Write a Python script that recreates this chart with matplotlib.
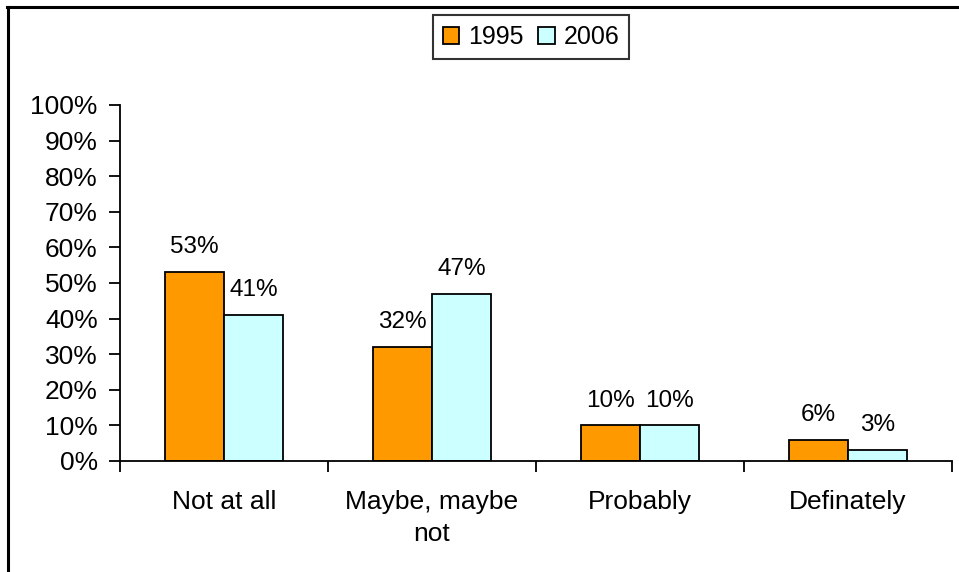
import numpy as np
import matplotlib.pyplot as plt
from matplotlib.lines import Line2D
from matplotlib.ticker import FixedLocator, NullFormatter

plt.rcParams['font.family'] = ['Liberation Sans', 'DejaVu Sans']

categories = ["Not at all", "Maybe, maybe\nnot", "Probably", "Definately"]
years = ["1995", "2006"]
vals_1995 = [53, 32, 10, 6]
vals_2006 = [41, 47, 10, 3]
colors = ["#FF9900", "#CCFFFF"]

fig = plt.figure(figsize=(9.59, 5.72), dpi=100)
ax = fig.add_axes([120/959, 1-461/572, (952-120)/959, (461-105)/572])

x = np.arange(len(categories))
w = 0.284
b1 = ax.bar(x - w/2, vals_1995, w, color=colors[0], edgecolor='black', linewidth=1.3, label=years[0])
b2 = ax.bar(x + w/2, vals_2006, w, color=colors[1], edgecolor='black', linewidth=1.3, label=years[1])

for bars, vals in ((b1, vals_1995), (b2, vals_2006)):
    for r, v in zip(bars, vals):
        ax.annotate(f"{v}%", (r.get_x() + r.get_width()/2, v), xytext=(0, 10),
                    textcoords='offset points', ha='center', va='bottom', fontsize=17.5)

ax.set_xlim(-0.5, len(categories) - 0.5)
ax.set_ylim(0, 100)
ax.set_yticks(np.arange(0, 101, 10))
ax.set_yticklabels([f"{t}%" for t in range(0, 101, 10)], fontsize=19)
ax.xaxis.set_major_locator(FixedLocator(np.arange(-0.5, len(categories), 1)))
ax.xaxis.set_major_formatter(NullFormatter())
ax.xaxis.set_minor_locator(FixedLocator(x))
ax.set_xticklabels(categories, minor=True, fontsize=19, linespacing=1.4)
ax.tick_params(axis='x', which='minor', length=0, pad=21)
ax.tick_params(axis='x', which='major', length=8, width=1.3, direction='out')
ax.tick_params(axis='y', length=8, width=1.3, direction='out', pad=8)
for s in ('top', 'right'):
    ax.spines[s].set_visible(False)
for s in ('left', 'bottom'):
    ax.spines[s].set_linewidth(1.3)

leg = fig.legend(loc='center', bbox_to_anchor=(531/959, 1-37/572), ncol=2, fontsize=18,
                 frameon=True, fancybox=False, edgecolor='black', handlelength=0.65,
                 handleheight=0.65, handletextpad=0.35, columnspacing=0.6, borderpad=0.4,
                 borderaxespad=0)
leg.get_frame().set_linewidth(1.5)
for p in leg.get_patches():
    p.set_linewidth(1.3)

# outer frame (cropped chart area)
fig.add_artist(Line2D([7.5/959, 7.5/959], [0, 1-6.5/572], transform=fig.transFigure, color='black', linewidth=2.2))
fig.add_artist(Line2D([6.5/959, 1], [1-7/572, 1-7/572], transform=fig.transFigure, color='black', linewidth=2.2))

fig.savefig("out.png", dpi=100)
